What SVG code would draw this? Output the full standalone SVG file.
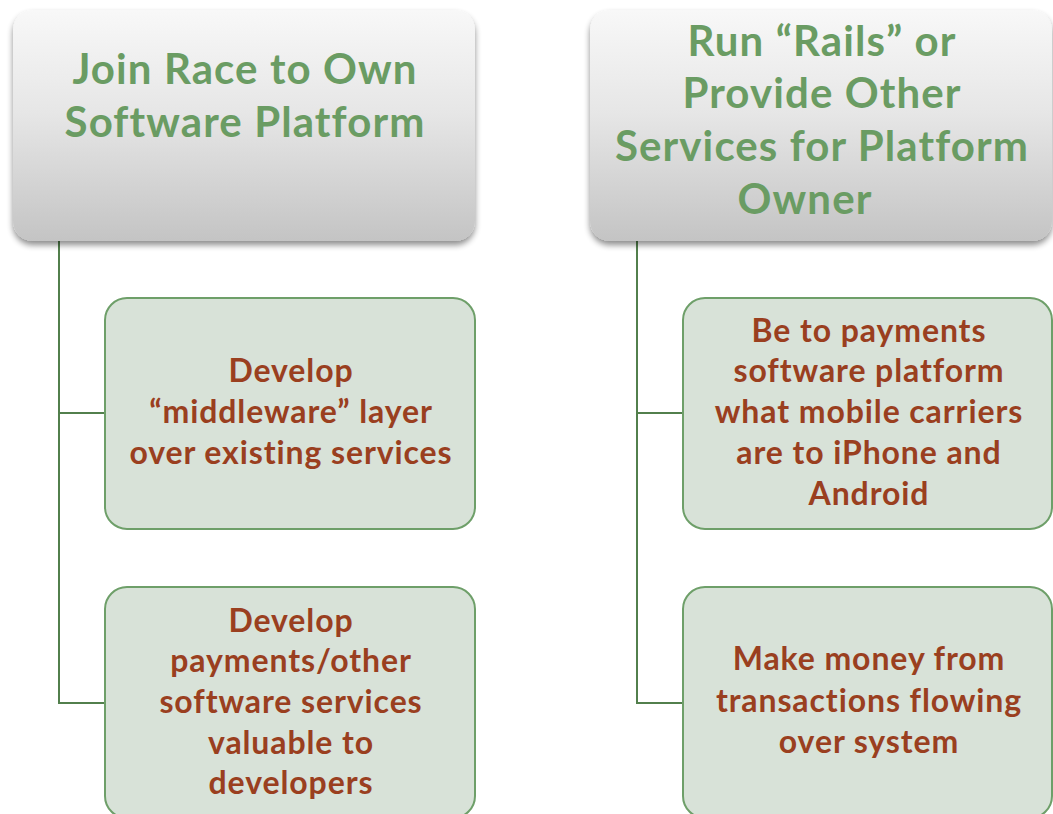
<svg xmlns="http://www.w3.org/2000/svg" width="1053" height="814" viewBox="0 0 1053 814">
<defs>
<linearGradient id="hg" x1="0" y1="0" x2="0" y2="1">
<stop offset="0" stop-color="#f8f8f8"/>
<stop offset="0.45" stop-color="#e6e6e6"/>
<stop offset="1" stop-color="#c4c4c4"/>
</linearGradient>
<filter id="sh" x="-10%" y="-10%" width="120%" height="130%">
<feGaussianBlur in="SourceAlpha" stdDeviation="3"/>
<feOffset dx="0" dy="4" result="b"/>
<feComponentTransfer><feFuncA type="linear" slope="0.45"/></feComponentTransfer>
<feMerge><feMergeNode/><feMergeNode in="SourceGraphic"/></feMerge>
</filter>
</defs>
<style>
.hdr{fill:url(#hg);filter:url(#sh)}
.ht{font-family:Lato,"Liberation Sans",sans-serif;font-weight:bold;font-size:42px;letter-spacing:1.1px;fill:#6a9c63;text-anchor:middle}
.box{fill:#d8e2d8;stroke:#6e9f69;stroke-width:2}
.bt{font-family:Lato,"Liberation Sans",sans-serif;font-weight:bold;font-size:32px;letter-spacing:0.9px;fill:#9a3f1f;text-anchor:middle}
.con{fill:none;stroke:#527f4c;stroke-width:2}
</style>
<rect width="1053" height="814" fill="#ffffff"/>
<g id="connectors">
<path class="con" d="M59 241 V703 H105 M59 413 H105"/>
<path class="con" d="M637 241 V703 H683 M637 413 H683"/>
</g>
<g id="header-left">
<rect class="hdr" x="13" y="10" width="462" height="231" rx="20"/>
<text class="ht" x="245" y="84">Join Race to Own</text>
<text class="ht" x="245" y="137">Software Platform</text>
</g>
<g id="header-right">
<rect class="hdr" x="590" y="10" width="462" height="231" rx="20"/>
<text class="ht" x="822" y="56">Run “Rails” or</text>
<text class="ht" x="822" y="108">Provide Other</text>
<text class="ht" x="822" y="161">Services for Platform</text>
<text class="ht" x="805" y="214">Owner</text>
</g>
<g id="left-1">
<rect class="box" x="105" y="298" width="370" height="231" rx="22"/>
<text class="bt" x="291" y="382">Develop</text>
<text class="bt" x="291" y="423">“middleware” layer</text>
<text class="bt" x="291" y="464">over existing services</text>
</g>
<g id="left-2">
<rect class="box" x="105" y="587" width="370" height="231" rx="22"/>
<text class="bt" x="291" y="632">Develop</text>
<text class="bt" x="291" y="672">payments/other</text>
<text class="bt" x="291" y="713">software services</text>
<text class="bt" x="291" y="754">valuable to</text>
<text class="bt" x="291" y="794">developers</text>
</g>
<g id="right-1">
<rect class="box" x="683" y="298" width="369" height="231" rx="22"/>
<text class="bt" x="869" y="342">Be to payments</text>
<text class="bt" x="869" y="382">software platform</text>
<text class="bt" x="869" y="423">what mobile carriers</text>
<text class="bt" x="869" y="464">are to iPhone and</text>
<text class="bt" x="869" y="505">Android</text>
</g>
<g id="right-2">
<rect class="box" x="683" y="587" width="369" height="231" rx="22"/>
<text class="bt" x="869" y="670">Make money from</text>
<text class="bt" x="869" y="712">transactions flowing</text>
<text class="bt" x="869" y="753">over system</text>
</g>
</svg>
